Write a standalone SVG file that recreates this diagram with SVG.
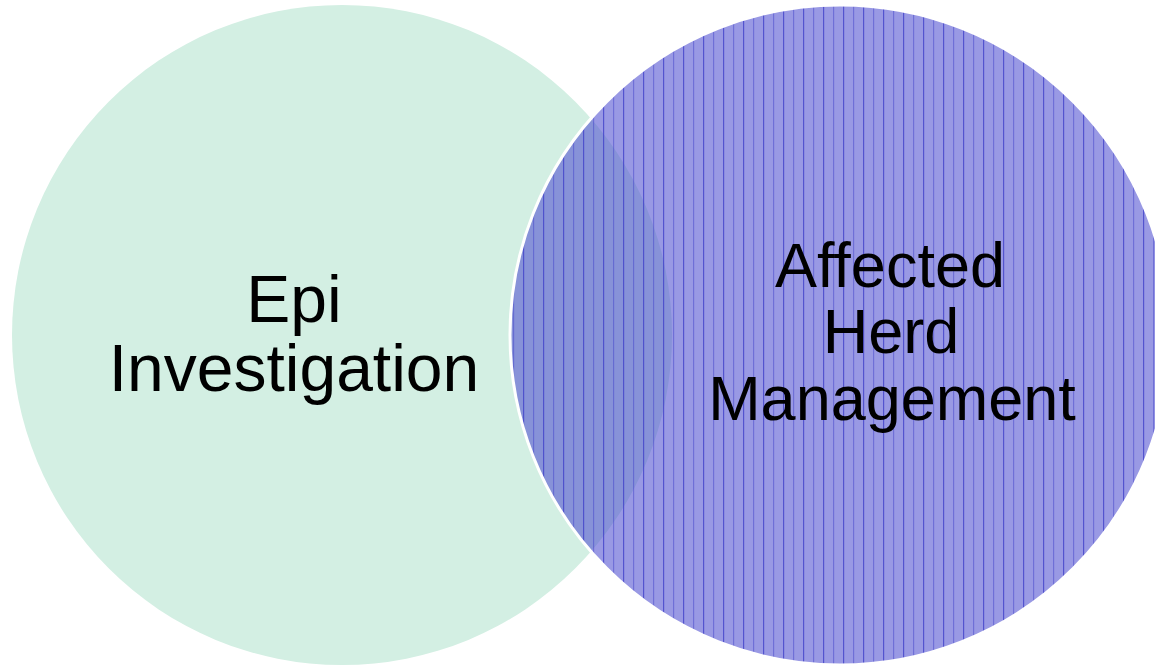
<svg xmlns="http://www.w3.org/2000/svg" width="1155" height="665" viewBox="0 0 1155 665">
  <defs>
    <pattern id="vlines" patternUnits="userSpaceOnUse" x="3" y="0" width="20" height="20">
      <rect x="0" y="0" width="1.2" height="20" fill="#3c3cc8" opacity="0.75"/>
      <rect x="10" y="0" width="1.2" height="20" fill="#3c3cc8" opacity="0.45"/>
    </pattern>
  </defs>
  <style>
    .lbl { font-family: "Liberation Sans", Arial, sans-serif; fill: #000; text-anchor: middle; }
  </style>
  <rect width="1155" height="665" fill="#ffffff"/>
  <g id="epi-investigation">
    <circle cx="342" cy="335" r="330" fill="#d3efe3"/>
    <text class="lbl" font-size="66" x="294" y="322">Epi</text>
    <text class="lbl" font-size="66" x="294" y="391">Investigation</text>
  </g>
  <g id="affected-herd-management">
    <circle cx="840" cy="335" r="330" fill="#5050d0" fill-opacity="0.58"/>
    <circle cx="840" cy="335" r="330" fill="url(#vlines)"/>
    <circle cx="840" cy="335" r="330" fill="none" stroke="#ffffff" stroke-width="3"/>
    <text class="lbl" font-size="63" x="890" y="287">Affected</text>
    <text class="lbl" font-size="63" x="891" y="353">Herd</text>
    <text class="lbl" font-size="63" x="892" y="420">Management</text>
  </g>
  <g id="connectors"></g>
</svg>
